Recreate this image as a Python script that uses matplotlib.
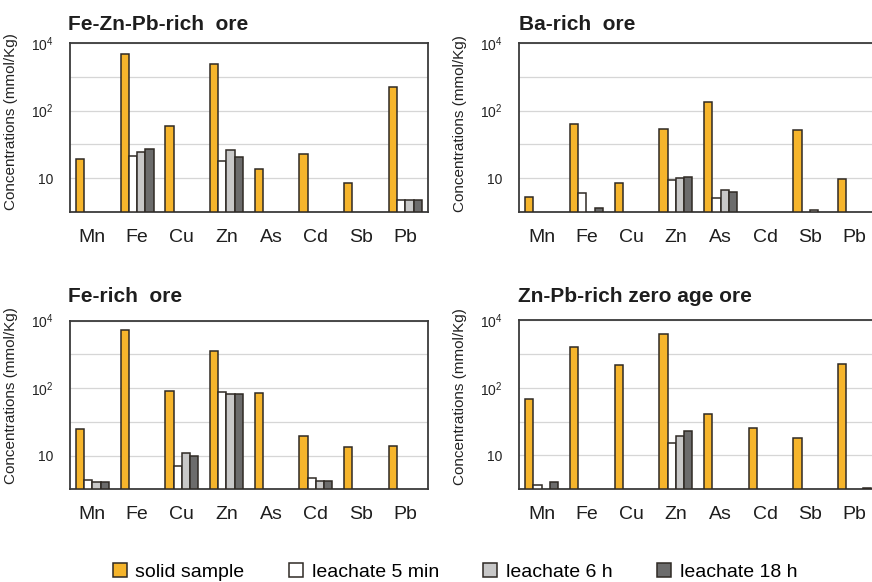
import numpy as np
import matplotlib
matplotlib.use("Agg")
import matplotlib.pyplot as plt
from matplotlib.patches import Patch

plt.rcParams["font.family"] = ["Liberation Sans", "DejaVu Sans"]
plt.rcParams["mathtext.default"] = "regular"

nan = np.nan
elements = ["Mn", "Fe", "Cu", "Zn", "As", "Cd", "Sb", "Pb"]
series_names = ["solid sample", "leachate 5 min", "leachate 6 h", "leachate 18 h"]

# Fe-Zn-Pb-rich ore
fezn_solid = [16.6, 3850, 51.7, 1640, 12.7, 19.3, 8.9, 347]
fezn_5min = [nan, 18.2, nan, 15.7, nan, nan, nan, 6.3]
fezn_6h = [nan, 20.1, nan, 21.4, nan, nan, nan, 6.3]
fezn_18h = [nan, 22.6, nan, 17.7, nan, nan, nan, 6.3]

# Ba-rich ore
ba_solid = [6.7, 55.4, 8.9, 45.8, 153, nan, 43, 9.9]
ba_5min = [nan, 7.2, nan, 9.6, 6.6, nan, nan, nan]
ba_6h = [nan, nan, nan, 10.1, 7.7, nan, 5.25, nan]
ba_18h = [nan, 5.46, nan, 10.4, 7.4, nan, nan, nan]

# Fe-rich ore
fe_solid = [20.4, 4350, 86.3, 832, 81, 16.9, 12.3, 12.7]
fe_5min = [6.0, nan, 7.9, 81.4, nan, 6.2, nan, nan]
fe_6h = [5.78, nan, 10.7, 75.5, nan, 5.93, nan, nan]
fe_18h = [5.78, nan, 10.0, 75.5, nan, 5.93, nan, nan]

# Zn-Pb-rich zero age ore
znpb_solid = [59.3, 1110, 336, 3020, 33.2, 21.3, 15.8, 364]
znpb_5min = [5.48, nan, nan, 13.5, nan, nan, nan, nan]
znpb_6h = [nan, nan, nan, 16.6, nan, nan, nan, nan]
znpb_18h = [5.82, nan, nan, 19.0, nan, nan, nan, 5.24]

titles = ["Fe-Zn-Pb-rich  ore", "Ba-rich  ore", "Fe-rich  ore", "Zn-Pb-rich zero age ore"]
panels = [
    [fezn_solid, fezn_5min, fezn_6h, fezn_18h],
    [ba_solid, ba_5min, ba_6h, ba_18h],
    [fe_solid, fe_5min, fe_6h, fe_18h],
    [znpb_solid, znpb_5min, znpb_6h, znpb_18h],
]

colors = ["#F6B52C", "#FFFFFF", "#C8C8C8", "#6C6C6C"]
edge = "#2f2a25"
frame = "#3a3a3a"


def fwd(v):
    v = np.clip(np.asarray(v, dtype=float), 1.0001, None)
    return np.log2(np.log10(v))


def inv(t):
    return 10.0 ** (2.0 ** np.asarray(t, dtype=float))


ymin = inv(-0.5)
ymax = 1e4

W, H = 872, 582
fig = plt.figure(figsize=(W / 100, H / 100), dpi=100)

# axes boxes in pixels: left, top, right, bottom
boxes = [(70, 43, 427.7, 212), (519.3, 43, 877, 212),
         (70, 320.5, 427.7, 489.3), (519.3, 320, 877, 489.3)]
title_pos = [(68, 29.5), (519, 29.5), (68, 302.5), (518, 302.5)]
label_y = [0.535, 0.525, 0.555, 0.545]

width = 0.185
offsets = np.array([-1.5, -0.5, 0.5, 1.5]) * width
x = np.arange(len(elements))

for k, (box, series) in enumerate(zip(boxes, panels)):
    l, t, r, b = box
    ax = fig.add_axes([l / W, 1 - b / H, (r - l) / W, (b - t) / H])
    ax.set_yscale("function", functions=(fwd, inv))
    ax.set_ylim(ymin, ymax)
    ax.set_xlim(-0.5, len(elements) - 0.5)
    for s, vals in enumerate(series):
        vals = np.asarray(vals, dtype=float)
        m = ~np.isnan(vals)
        ax.bar(x[m] + offsets[s], vals[m] - ymin, bottom=ymin, width=width,
               color=colors[s], edgecolor=edge, linewidth=1.1, zorder=3)
    ax.set_yticks([10, 100, 1e4])
    ax.set_yticklabels(["10", r"$10^{2}$", r"$10^{4}$"], fontsize=10, color="#222222")
    ax.set_yticks([inv(0.5), inv(1.5)], minor=True)
    ax.yaxis.grid(True, which="both", color="#d6d6d6", linewidth=0.9, zorder=0)
    ax.set_axisbelow(True)
    ax.tick_params(axis="y", which="both", length=0, pad=12)
    ax.set_xticks(x)
    ax.set_xticklabels(elements, fontsize=14, color="#1e1e1e")
    ax.tick_params(axis="x", length=0, pad=12)
    for sp in ax.spines.values():
        sp.set_color(frame)
        sp.set_linewidth(1.3)
    ax.set_ylabel("Concentrations (mmol/Kg)", fontsize=11, color="#222222")
    ax.yaxis.set_label_coords(-0.145, label_y[k])
    tx, ty = title_pos[k]
    fig.text(tx / W, 1 - ty / H, titles[k], fontsize=15, fontweight="bold",
             color="#1e1e1e", ha="left", va="baseline")

handles = [Patch(facecolor=c, edgecolor=edge, linewidth=1.1) for c in colors]
fig.legend(handles, series_names, loc="center", bbox_to_anchor=(455 / W, 1 - 572 / H),
           ncol=4, frameon=False, fontsize=14, handlelength=0.7, handleheight=0.7,
           handletextpad=0.45, columnspacing=2.3, borderpad=0)

fig.savefig("out.png", dpi=100, facecolor="white")
